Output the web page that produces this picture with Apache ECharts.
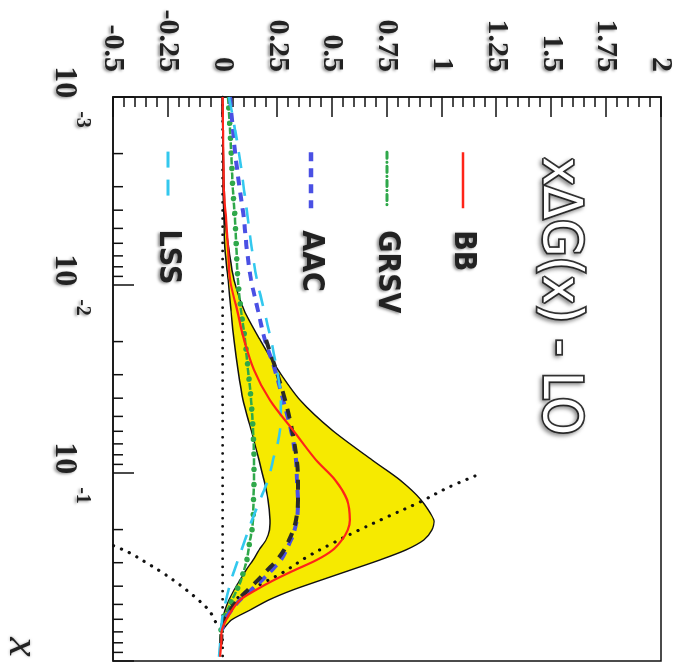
<!DOCTYPE html>
<html><head><meta charset="utf-8">
<script src="https://cdn.jsdelivr.net/npm/echarts@6.0.0/dist/echarts.min.js"></script>
<style>
html,body{margin:0;padding:0;background:#fff;width:684px;height:664px;overflow:hidden;}
#chart{position:absolute;left:10px;top:-10px;width:664px;height:684px;transform:rotate(90deg);transform-origin:50% 50%;background:#fff;}
</style></head><body><div id="chart"></div>
<script>
// ---- data (x on log axis, value = x*DeltaG(x)) ----
const xs = [0.001, 0.0015, 0.00216, 0.00313, 0.00451, 0.00651, 0.0094, 0.0136, 0.0196, 0.0283, 0.0409, 0.0591, 0.0853, 0.109, 0.139, 0.178, 0.201, 0.227, 0.257, 0.290, 0.328, 0.371, 0.419, 0.474, 0.536, 0.605, 0.684, 0.822, 0.95];
const bbValues = [0.000, 0.002, 0.004, 0.006, 0.016, 0.025, 0.034, 0.066, 0.098, 0.143, 0.216, 0.321, 0.426, 0.513, 0.568, 0.581, 0.571, 0.544, 0.502, 0.430, 0.330, 0.235, 0.152, 0.079, 0.043, 0.016, -0.003, -0.007, -0.012];
const bandUpper = [0.001, 0.002, 0.004, 0.008, 0.011, 0.029, 0.052, 0.098, 0.171, 0.253, 0.353, 0.499, 0.682, 0.809, 0.905, 0.964, 0.955, 0.918, 0.835, 0.718, 0.585, 0.450, 0.320, 0.210, 0.125, 0.040, 0.0, null, null];
const bandLower = [0.0, 0.0, 0.001, 0.002, 0.006, 0.011, 0.025, 0.038, 0.052, 0.070, 0.093, 0.130, 0.166, 0.189, 0.207, 0.216, 0.214, 0.198, 0.166, 0.139, 0.107, 0.079, 0.052, 0.029, 0.011, 0.002, 0.0, null, null];
const grsvValues = [0.025, 0.034, 0.041, 0.047, 0.057, 0.063, 0.070, 0.084, 0.102, 0.116, 0.130, 0.139, 0.143, 0.143, 0.141, 0.139, 0.134, 0.125, 0.118, 0.111, 0.098, 0.084, 0.065, 0.043, 0.022, 0.002, -0.007, -0.010, null];
const lssValues = [0.029, 0.057, 0.079, 0.098, 0.116, 0.134, 0.157, 0.189, 0.221, 0.248, 0.266, 0.262, 0.230, 0.207, 0.171, 0.134, 0.118, 0.102, 0.086, 0.070, 0.054, 0.038, 0.027, 0.016, 0.006, -0.003, -0.008, -0.012, -0.016];
const aacValues = [0.034, 0.047, 0.061, 0.079, 0.098, 0.111, 0.130, 0.161, 0.193, 0.239, 0.276, 0.312, 0.335, 0.339, 0.344, 0.339, 0.328, 0.312, 0.290, 0.266, 0.225, 0.180, 0.130, 0.079, 0.040, 0.011, -0.003, null, null];
const blackDashValues = [null, null, null, null, null, null, null, null, 0.198, 0.244, 0.285, 0.317, 0.339, 0.344, 0.344, 0.335, 0.322, 0.303, 0.280, 0.248, 0.205, 0.161, 0.115, 0.070, 0.034, 0.006, -0.003, -0.007, null];
const upperBoundX = [0.1038, 0.1202, 0.1426, 0.1714, 0.2036, 0.2357, 0.2797, 0.3404, 0.3846, 0.4295, 0.4742, 0.548, 0.667];
const upperBoundV = [1.151, 1.024, 0.901, 0.750, 0.613, 0.504, 0.385, 0.271, 0.184, 0.111, 0.057, 0.020, 0.0];
const lowerBoundX = [0.2138, 0.2415, 0.2667, 0.3015, 0.3404, 0.3945, 0.4571, 0.548, 0.667];
const lowerBoundV = [-0.605, -0.505, -0.422, -0.345, -0.272, -0.194, -0.126, -0.057, -0.021];
const zeroLineX = [0.001, 1];
const zeroLineV = [0, 0];
// ---- ticks ----
const valueTickLabels = ['-0.5', '-0.25', '0', '0.25', '0.5', '0.75', '1', '1.25', '1.5', '1.75', '2'];
const logTickValues = [0.001, 0.01, 0.1, 1];
const logTickExponents = ['-3', '-2', '-1', ''];
const logMinorTicks = [0.002, 0.003, 0.004, 0.005, 0.006, 0.007, 0.008, 0.009, 0.02, 0.03, 0.04, 0.05, 0.06, 0.07, 0.08, 0.09, 0.2, 0.3, 0.4, 0.5, 0.6, 0.7, 0.8, 0.9];

const serif = "'Liberation Serif','Times New Roman',serif";
const narrow = "'Liberation Sans Narrow','DejaVu Sans Condensed','Liberation Sans',sans-serif";
const shadow = {textShadowColor: 'rgba(0,0,0,0.45)', textShadowBlur: 3, textShadowOffsetX: 1, textShadowOffsetY: 2};

function pairs(arr) { return xs.map((x, i) => [x, arr[i]]).filter(p => p[1] != null); }
function zipXY(a, b) { return a.map((x, i) => [x, b[i]]); }

const chart = echarts.init(document.getElementById('chart'), null, {renderer: 'canvas', width: 664, height: 684});
const base = {type: 'line', symbol: 'none', smooth: 0.35, silent: true, clip: true};
const legendText = Object.assign({fontFamily: narrow, fontWeight: 'bold', fontSize: 30, color: '#222', lineHeight: 30, padding: [0, 0, 0, 17]}, shadow);
const legendItemStyle = {opacity: 0, color: 'rgba(0,0,0,0)', borderWidth: 0};

chart.setOption({
  animation: false,
  backgroundColor: '#fff',
  title: {
    text: 'xΔG(x) - LO', left: 157, top: 99, padding: 0,
    textStyle: {fontFamily: narrow, fontSize: 54, fontWeight: 'normal', color: '#fff', textBorderColor: '#333', textBorderWidth: 3.5,
      textShadowColor: 'rgba(0,0,0,0.35)', textShadowBlur: 4, textShadowOffsetX: 2, textShadowOffsetY: 2}
  },
  legend: [
    {data: [
        {name: 'BB', lineStyle: {width: 2.6}},
        {name: 'GRSV', lineStyle: {width: 3.2, type: [6, 4, 0.1, 4], cap: 'round'}},
        {name: 'AAC', lineStyle: {width: 4.5}}
      ],
      orient: 'vertical', left: 150, top: 206, itemWidth: 56, itemHeight: 14, itemGap: 46, padding: 0, selectedMode: false,
      itemStyle: legendItemStyle, textStyle: legendText},
    {data: [{name: 'LSS', lineStyle: {width: 3.2}}],
      orient: 'vertical', left: 150, top: 501, itemWidth: 56, itemHeight: 14, padding: 0, selectedMode: false,
      itemStyle: legendItemStyle, textStyle: legendText}
  ],
  grid: {left: 97, right: 3, top: 23, bottom: 113, show: true, borderColor: '#111', borderWidth: 1.5, backgroundColor: '#fff'},
  xAxis: {
    type: 'log', logBase: 10, min: 0.001, max: 1,
    axisLine: {show: true, onZero: false, lineStyle: {color: '#111', width: 1.5}},
    axisTick: {show: true, inside: true, length: 21, lineStyle: {color: '#111', width: 1.5}},
    splitLine: {show: false},
    axisLabel: {
      margin: 21, showMinLabel: true, showMaxLabel: true, hideOverlap: false,
      formatter: function (v) {
        for (let i = 0; i < logTickValues.length; i++) {
          if (Math.abs(Math.log10(v) - Math.log10(logTickValues[i])) < 1e-6 && logTickExponents[i]) {
            return '{b|10}{s|' + logTickExponents[i] + '}';
          }
        }
        return '';
      },
      rich: {
        b: Object.assign({fontFamily: serif, fontWeight: 'bold', fontSize: 32, lineHeight: 44, verticalAlign: 'bottom', color: '#222'}, shadow),
        s: Object.assign({fontFamily: serif, fontWeight: 'bold', fontSize: 20, lineHeight: 20, verticalAlign: 'top', padding: [0, 0, 0, 13], color: '#222'}, shadow)
      }
    }
  },
  yAxis: {
    type: 'value', min: -0.5, max: 2, interval: 0.25,
    axisLine: {show: true, onZero: false, lineStyle: {color: '#111', width: 1.5}},
    axisTick: {show: true, inside: true, length: 20, lineStyle: {color: '#111', width: 1.5}},
    minorTick: {show: true, splitNumber: 5, length: 10, lineStyle: {color: '#111', width: 1.5}},
    splitLine: {show: false},
    axisLabel: Object.assign({
      margin: 25, fontFamily: serif, fontWeight: 'bold', fontSize: 30, color: '#222',
      formatter: function (v) { const i = Math.round((v + 0.5) / 0.25); return valueTickLabels[i] || ''; }
    }, shadow)
  },
  graphic: [
    {type: 'text', x: 647, y: 662, silent: true,
      style: {text: 'x', fontFamily: serif, fontStyle: 'italic', fontSize: 44, fill: '#222', align: 'center', verticalAlign: 'middle',
        textShadowColor: 'rgba(0,0,0,0.35)', textShadowBlur: 3}}
  ],
  series: [
    {type: 'custom', name: 'band', z: 1, silent: true, data: [[0.001, 0]],
      renderItem: function (params, api) {
        const pts = [];
        xs.forEach((x, i) => { if (bandUpper[i] != null) pts.push(api.coord([x, bandUpper[i]])); });
        for (let i = xs.length - 1; i >= 0; i--) if (bandLower[i] != null) pts.push(api.coord([xs[i], bandLower[i]]));
        return {type: 'polygon', shape: {points: pts, smooth: 0.25}, style: {fill: '#f6ea00', stroke: '#111', lineWidth: 1.4}};
      }},
    Object.assign({}, base, {name: 'zero', z: 2, smooth: false, data: zipXY(zeroLineX, zeroLineV), lineStyle: {color: '#111', width: 2.6, type: [0.1, 8], cap: 'round'}}),
    Object.assign({}, base, {name: 'upperBound', z: 3, data: zipXY(upperBoundX, upperBoundV), lineStyle: {color: '#111', width: 3.2, type: [0.1, 8.5], cap: 'round'}}),
    Object.assign({}, base, {name: 'lowerBound', z: 3, data: zipXY(lowerBoundX, lowerBoundV), lineStyle: {color: '#111', width: 3.2, type: [0.1, 8.5], cap: 'round'}}),
    Object.assign({}, base, {name: 'GRSV', z: 4, data: pairs(grsvValues), itemStyle: {color: '#2fa84a'}, lineStyle: {color: '#2fa84a', width: 2.5, type: [7, 4, 0.1, 4]}}),
    Object.assign({}, base, {name: 'GRSVdots', z: 4, data: pairs(grsvValues), lineStyle: {color: '#2fa84a', width: 5.5, type: [0.1, 15.0], dashOffset: 4.1, cap: 'round'}}),
    Object.assign({}, base, {name: 'AAC', z: 5, data: pairs(aacValues), itemStyle: {color: '#4a50e4'}, lineStyle: {color: '#4a50e4', width: 4, type: [9, 7]}}),
    Object.assign({}, base, {name: 'blackDash', z: 6, data: pairs(blackDashValues), lineStyle: {color: '#2a2a2a', width: 4, type: [10, 8]}}),
    Object.assign({}, base, {name: 'LSS', z: 7, data: pairs(lssValues), itemStyle: {color: '#33c8ee'}, lineStyle: {color: '#33c8ee', width: 2.6, type: [16, 12]}}),
    Object.assign({}, base, {name: 'BB', z: 8, data: pairs(bbValues), itemStyle: {color: '#ff2418'}, lineStyle: {color: '#ff2418', width: 2.2}}),
    {type: 'custom', name: 'minorTicks', z: 10, silent: true, data: logMinorTicks.map(v => [v, -0.5]),
      renderItem: function (params, api) {
        const p = api.coord([api.value(0), -0.5]);
        return {type: 'line', shape: {x1: p[0], y1: p[1], x2: p[0], y2: p[1] - 10}, style: {stroke: '#111', lineWidth: 1.5}};
      }}
  ]
});
</script></body></html>
